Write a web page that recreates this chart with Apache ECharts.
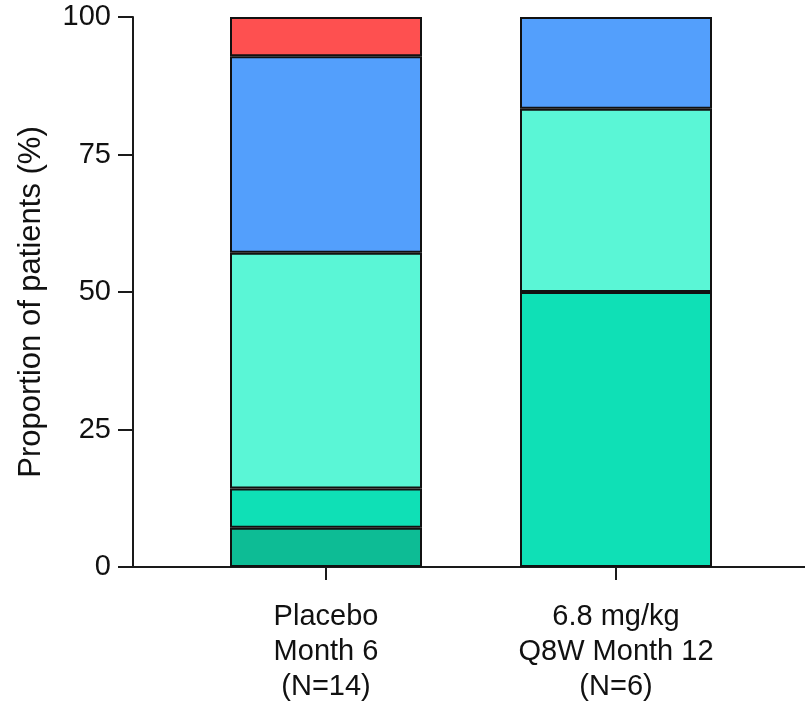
<!DOCTYPE html>
<html>
<head>
<meta charset="utf-8">
<script src="https://cdn.jsdelivr.net/npm/echarts@6/dist/echarts.min.js"></script>
<style>
html,body{margin:0;padding:0;background:#fff;}
#chart{width:805px;height:704px;}
</style>
</head>
<body>
<div id="chart"></div>
<script>
const categories = ['Placebo\nMonth 6\n(N=14)', '6.8 mg/kg\nQ8W Month 12\n(N=6)'];
const seriesNames = ['Group A', 'Group B', 'Group C', 'Group D', 'Group E'];
const seriesA = [7.14, null];
const seriesB = [7.14, 50.0];
const seriesC = [42.86, 33.33];
const seriesD = [35.71, 16.67];
const seriesE = [7.14, null];
const yTicks = [0, 25, 50, 75, 100];
const yAxisName = 'Proportion of patients (%)';

const colors = ['#0dbc95', '#0fe0b6', '#5af6d6', '#539ffc', '#fe5050'];
const font = 'Liberation Sans, Arial, sans-serif';
const allSeries = [seriesA, seriesB, seriesC, seriesD, seriesE];

const chart = echarts.init(document.getElementById('chart'));
chart.setOption({
  animation: false,
  grid: [
    {left: 133, right: 0, top: 17, bottom: 137},
    {left: 181, width: 580, top: 17, bottom: 137}
  ],
  xAxis: [
    {gridIndex: 0, type: 'value', min: 0, max: 1,
     axisLine: {show: true, lineStyle: {color: '#1a1a1a', width: 2}},
     axisTick: {show: false}, axisLabel: {show: false}, splitLine: {show: false}},
    {gridIndex: 1, type: 'category', data: categories,
     axisLine: {show: false},
     axisTick: {show: true, alignWithLabel: true, length: 13, lineStyle: {color: '#1a1a1a', width: 2}},
     axisLabel: {margin: 32, fontSize: 29, fontFamily: font, color: '#111', lineHeight: 35}}
  ],
  yAxis: [
    {gridIndex: 0, type: 'value', min: yTicks[0], max: yTicks[yTicks.length - 1], interval: 25,
     name: yAxisName, nameLocation: 'middle', nameGap: 86,
     nameTextStyle: {fontSize: 31, fontFamily: font, color: '#111', padding: [0, 20, 0, 0]},
     axisLine: {show: true, lineStyle: {color: '#1a1a1a', width: 2}},
     axisTick: {show: true, length: 15, lineStyle: {color: '#1a1a1a', width: 2}},
     axisLabel: {margin: 22, fontSize: 29, fontFamily: font, color: '#111'},
     splitLine: {show: false}},
    {gridIndex: 1, type: 'value', min: 0, max: 100, show: false, splitLine: {show: false}}
  ],
  series: allSeries.map((d, i) => ({
    name: seriesNames[i],
    type: 'bar',
    stack: 'total',
    xAxisIndex: 1,
    yAxisIndex: 1,
    barWidth: 192,
    data: d,
    itemStyle: {color: colors[i], borderColor: '#111', borderWidth: 2}
  }))
});
</script>
</body>
</html>
